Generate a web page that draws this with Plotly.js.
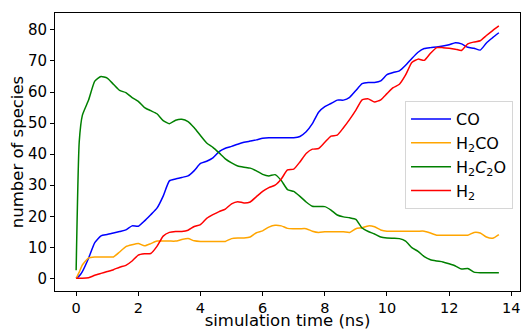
<!DOCTYPE html>
<html>
<head>
<meta charset="utf-8">
<script src="https://cdn.plot.ly/plotly-3.0.1.min.js"></script>
<style>html,body{margin:0;padding:0;background:#fff}#chart{width:521px;height:330px}</style>
</head>
<body>
<div id="chart"></div>
<script>
const timeNs = [0, 0.1, 0.2, 0.4, 0.6, 0.8, 1.0, 1.2, 1.4, 1.6, 1.8, 2.0, 2.2, 2.4, 2.6, 2.8, 3.0, 3.2, 3.4, 3.6, 3.8,
  4.0, 4.2, 4.4, 4.6, 4.8, 5.0, 5.2, 5.4, 5.6, 5.8, 6.0, 6.2, 6.4, 6.6, 6.8, 7.0, 7.2, 7.4, 7.6, 7.8,
  8.0, 8.2, 8.4, 8.6, 8.8, 9.0, 9.2, 9.4, 9.6, 9.8, 10.0, 10.2, 10.4, 10.6, 10.8, 11.0, 11.2, 11.4, 11.6, 11.8,
  12.0, 12.2, 12.4, 12.6, 12.8, 13.0, 13.2, 13.4, 13.6];

const coCounts = [0, 0.8, 2.2, 6.5, 11.5, 13.7, 14.1, 14.6, 15.1, 15.6, 16.9, 16.8, 18.5, 20.5, 22.6, 26.5, 31.4, 32, 32.5, 33, 34.7,
  37, 37.7, 38.8, 40.8, 41.9, 42.5, 43.2, 43.8, 44.2, 44.6, 45.1, 45.3, 45.3, 45.3, 45.3, 45.3, 45.7, 47.2, 49.8, 53.5,
  55.3, 56.3, 57.4, 57.4, 58.3, 60.5, 62.7, 63.1, 63.1, 63.6, 65.6, 66.3, 66.8, 68.6, 70.8, 72.8, 74, 74.3, 74.5, 74.8,
  75.2, 75.9, 75.5, 74.4, 74.1, 73.5, 75.8, 77.5, 79.1];

const h2coCounts = [0, 2, 4.3, 6.6, 6.9, 6.9, 6.9, 6.9, 8.5, 10.2, 10.8, 11.2, 10.5, 11.2, 12, 12, 12, 12, 12.5, 12.8, 12.1,
  11.9, 11.9, 11.9, 11.9, 11.9, 12.8, 13, 13, 13.3, 14.7, 15.3, 16.5, 17.1, 16.9, 16.1, 16, 16, 16, 15.2, 14.8,
  15, 15, 15, 15, 14.8, 16, 16.3, 16.9, 16.6, 15.6, 15.2, 15.2, 15.2, 15.2, 15.2, 15.2, 15.2, 14.6, 13.9, 13.9,
  13.9, 13.9, 13.9, 13.9, 14.8, 14.6, 13.3, 12.9, 14.1];

const h2c2oCounts = [2.6, 44, 52.5, 57.4, 63.5, 65, 64.5, 62.5, 60.5, 59.8, 58.2, 57, 55, 54, 53, 50.8, 49.8, 50.9, 51.2, 50.5, 48.5,
  46, 43.6, 42.2, 40.4, 38.5, 37.2, 36.2, 35.8, 35.5, 34.6, 33.5, 33, 33.4, 31.5, 28.6, 28, 26.4, 24.6, 23.2, 23.1,
  23.1, 22, 20.4, 19.8, 19.5, 19, 16.2, 15.1, 14.3, 13.3, 13, 12.9, 12.8, 12, 9.9, 8.7, 7, 6, 5.6, 5.3,
  4.7, 4, 3, 3.2, 2, 1.8, 1.8, 1.8, 1.8];

const h2Counts = [0, 0, 0, 0.2, 1, 1.6, 2.2, 2.8, 3.6, 4.2, 5.6, 7.5, 7.9, 8, 10.3, 13.6, 14.8, 15.1, 15.1, 15.5, 16.7,
  17.3, 19.3, 20.5, 21.5, 22.3, 24, 24.7, 24.3, 24.6, 26.3, 28, 29.2, 30, 32, 34.9, 35.2, 37.5, 40.2, 41.6, 41.8,
  43.8, 45.8, 46.1, 48.5, 51.2, 54.2, 57.5, 57.8, 56.8, 57.5, 59.5, 61.4, 62.5, 65.5, 69.5, 70.6, 70.2, 72.5, 74.3, 74.3,
  74.1, 73.8, 73.4, 75.5, 76.1, 76.5, 78.2, 79.8, 81.3];

const seriesNames = ["CO", "H<sub>2</sub>CO", "H<sub>2</sub><i>C</i><sub>2</sub>O", "H<sub>2</sub>"];
const seriesValues = [coCounts, h2coCounts, h2c2oCounts, h2Counts];
const seriesColors = ["#0000ff", "#ffa500", "#008000", "#ff0000"];

const xTicks = [0, 2, 4, 6, 8, 10, 12, 14];
const yTicks = [0, 10, 20, 30, 40, 50, 60, 70, 80];

const traces = seriesValues.map((vals, i) => ({
  type: "scatter",
  mode: "lines",
  x: timeNs,
  y: vals,
  name: seriesNames[i],
  line: {color: seriesColors[i], width: 1.5, shape: "spline", smoothing: 0.5}
}));

const FF = "DejaVu Sans, sans-serif";

const layout = {
  width: 521,
  height: 330,
  margin: {l: 55, r: 1, t: 13, b: 39},
  paper_bgcolor: "#fff",
  plot_bgcolor: "#fff",
  font: {family: FF, size: 15, color: "#000"},
  showlegend: true,
  legend: {
    x: 0.985, y: 0.683, xanchor: "right", yanchor: "top",
    bgcolor: "rgba(255,255,255,0.8)",
    bordercolor: "#d6d6d6", borderwidth: 1,
    font: {family: FF, size: 16, color: "#000"},
    itemwidth: 40,
    tracegroupgap: 0
  },
  xaxis: {
    range: [-0.68, 14.28],
    tickvals: xTicks,
    ticktext: xTicks.map(String),
    showgrid: false, zeroline: false,
    showline: true, linecolor: "#000", linewidth: 1, mirror: true,
    ticks: "outside", ticklen: 4, tickcolor: "#000",
    tickfont: {family: FF, size: 14.5},
    title: {text: "simulation time (ns)", font: {family: FF, size: 16.5}, standoff: 3}
  },
  yaxis: {
    range: [-4.07, 85.45],
    tickvals: yTicks,
    ticktext: yTicks.map(String),
    showgrid: false, zeroline: false,
    showline: true, linecolor: "#000", linewidth: 1, mirror: true,
    ticks: "outside", ticklen: 4, tickcolor: "#000",
    tickfont: {family: FF, size: 15},
    title: {text: "number of species", font: {family: FF, size: 16.5}, standoff: 0}
  }
};

Plotly.newPlot("chart", traces, layout, {displayModeBar: false, staticPlot: true});
</script>
</body>
</html>
